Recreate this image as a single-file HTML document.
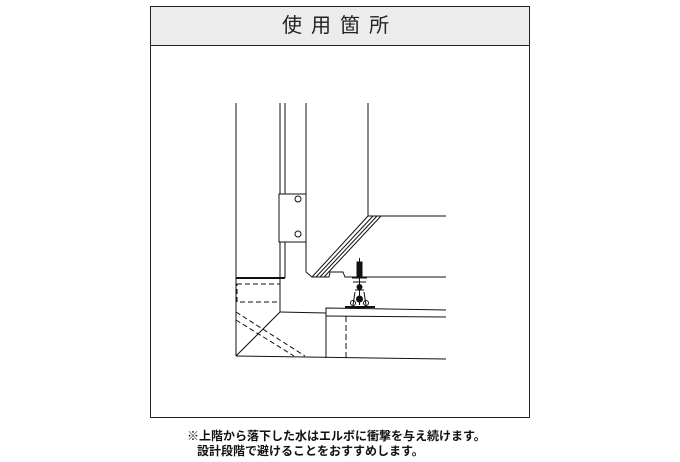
<!DOCTYPE html><html><head><meta charset="utf-8"><style>
body{margin:0;background:#fff;width:680px;height:462px;overflow:hidden;font-family:"Liberation Sans","Noto Sans CJK JP",sans-serif}
.box{position:absolute;left:150px;top:6px;width:378px;height:410px;border:1px solid #222}
.hd{height:38px;background:#ececec;border-bottom:1px solid #222;text-align:center;font-size:20px;line-height:38px;letter-spacing:9px;color:#222}
.ft{position:absolute;left:187px;top:429px;font-size:12px;line-height:15px;color:#111;font-weight:bold}
</style></head><body>
<div class="box"><div class="hd">使用箇所</div></div>
<svg style="position:absolute;left:0;top:0" width="680" height="462" fill="none" stroke="#111" stroke-width="1">
<line x1="236" y1="103" x2="236" y2="356"/>
<line x1="280" y1="103" x2="280" y2="312"/>
<line x1="285" y1="103" x2="285" y2="278"/>
<line x1="306" y1="103" x2="306" y2="272"/>
<polyline points="306,272 312,277 329,277 330,272 343,272 345,277 446,277"/>
<polyline points="368,103 368,216 446,216"/>
<line x1="368" y1="216" x2="312" y2="277"/>
<line x1="373" y1="216" x2="316" y2="277"/>
<line x1="377" y1="216" x2="320" y2="277"/>
<line x1="381" y1="216" x2="324" y2="277"/>
<rect x="279" y="194" width="27" height="48" fill="#fff"/>
<circle cx="298" cy="199" r="3"/><circle cx="298" cy="234" r="3"/>
<line x1="236" y1="278" x2="285" y2="278" stroke-width="2"/>
<rect x="237" y="284" width="43" height="18" stroke-dasharray="5,3"/>
<line x1="280" y1="312" x2="326" y2="313"/>
<line x1="280" y1="312" x2="236" y2="356"/>
<line x1="236" y1="356" x2="446" y2="359"/>
<line x1="236" y1="312" x2="305" y2="356" stroke-dasharray="5,3"/>
<line x1="236" y1="320" x2="294" y2="356" stroke-dasharray="5,3"/>
<polyline points="326,358 326,308 446,310"/>
<line x1="326" y1="316" x2="446" y2="317"/>
<line x1="346" y1="316" x2="346" y2="358" stroke-dasharray="6,3"/>
<rect x="357" y="262" width="5" height="14" fill="#111"/>
<line x1="359.5" y1="258" x2="359.5" y2="262"/>
<line x1="359.5" y1="276" x2="359.5" y2="305"/>
<line x1="352" y1="278" x2="367" y2="278"/>
<path d="M353 282 L366 282 M355 290 L364 290 M353 305 L355 292 M366 305 L364 292"/>
<circle cx="359.5" cy="287" r="2.5" fill="#111"/>
<circle cx="359.5" cy="299" r="3" fill="#111"/>
<circle cx="353" cy="303" r="2.5"/><circle cx="366" cy="303" r="2.5"/>
<line x1="345" y1="307" x2="375" y2="307" stroke-width="2"/>
</svg>
<div class="ft">※上階から落下した水はエルボに衝撃を与え続けます。<br>&nbsp;&nbsp;&nbsp;設計段階で避けることをおすすめします。</div>
</body></html>
